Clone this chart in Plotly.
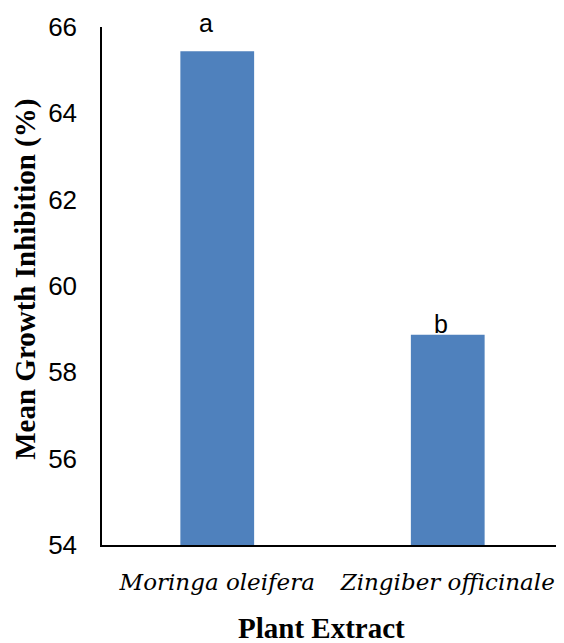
import plotly.graph_objects as go

categories = ["Moringa oleifera", "Zingiber officinale"]
values = [65.44, 58.87]
letters = ["a", "b"]
y_ticks = [54, 56, 58, 60, 62, 64, 66]

bar_color = "#4F81BD"
letter_shift = {"a": (-11, 12), "b": (-7, -5)}

fig = go.Figure()
fig.add_trace(go.Bar(
    x=categories,
    y=values,
    marker=dict(color=bar_color, line=dict(width=0)),
    width=0.32,
    showlegend=False,
))

for cat, val, lab in zip(categories, values, letters):
    dx, dy = letter_shift[lab]
    fig.add_annotation(
        x=cat, y=val, text=lab, showarrow=False,
        yanchor="bottom", xshift=dx, yshift=dy,
        font=dict(family="Liberation Sans, Arial, sans-serif", size=25, color="#000000"),
    )

# axis titles as annotations for precise placement
fig.add_annotation(
    xref="paper", yref="paper", x=0.477, y=0, yanchor="middle", xanchor="center",
    yshift=-83, showarrow=False, text="<b>Plant Extract</b>",
    font=dict(family="Liberation Serif, Times New Roman, serif", size=29, color="#000000"),
)
fig.add_annotation(
    xref="paper", yref="paper", x=0, y=0.512, xanchor="center", yanchor="middle",
    xshift=-76, textangle=-90, showarrow=False, text="<b>Mean Growth Inhibition (%)</b>",
    font=dict(family="Liberation Serif, Times New Roman, serif", size=29, color="#000000"),
)

fig.update_layout(
    width=556, height=635,
    margin=dict(l=94, r=1, t=19, b=98),
    plot_bgcolor="white", paper_bgcolor="white",
    xaxis=dict(
        showline=True, linecolor="#000000", linewidth=1.5,
        showgrid=False, ticks="", ticklabelstandoff=16,
        tickfont=dict(family="DejaVu Serif, serif", size=23, color="#000000", style="italic"),
    ),
    yaxis=dict(
        range=[54, 66], tickvals=y_ticks,
        showline=True, linecolor="#000000", linewidth=1.5,
        showgrid=False, zeroline=False, ticks="", ticklabelstandoff=18,
        tickfont=dict(family="Liberation Sans, Arial, sans-serif", size=26, color="#000000"),
    ),
)

fig.write_html("out.html")
